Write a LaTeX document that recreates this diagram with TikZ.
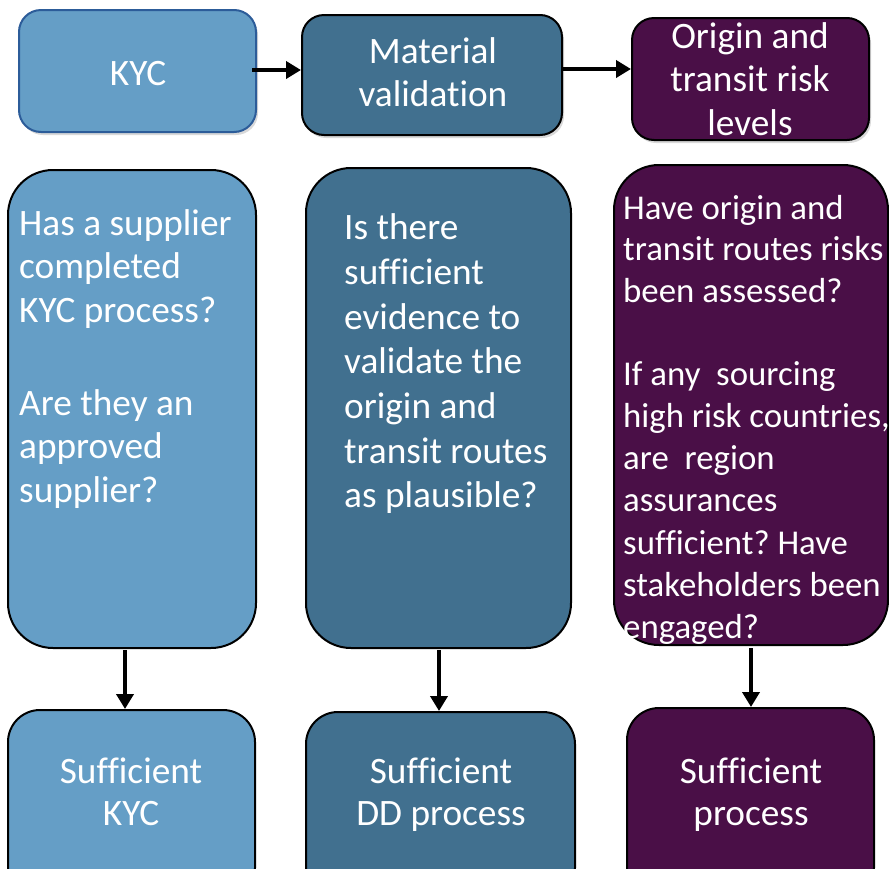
\documentclass[tikz,border=0pt]{standalone}
\usepackage{fontspec}
\setmainfont{Carlito}[Ligatures={NoCommon}]
\usetikzlibrary{arrows.meta,shadows}
\definecolor{lblue}{HTML}{659EC6}
\definecolor{dblue}{HTML}{41708F}
\definecolor{purp}{HTML}{4A0F47}
\definecolor{kycedge}{HTML}{2C5C99}
\frenchspacing
\begin{document}
\begin{tikzpicture}[x=1pt,y=-1pt,
  box/.style={rectangle, draw=black, line width=2pt, inner sep=0pt},
  topbox/.style={box, rounded corners=22pt, drop shadow={shadow xshift=2pt, shadow yshift=-3pt, opacity=0.3}},
  bigbox/.style={box, rounded corners=45pt},
  botbox/.style={box, rounded corners=32pt},
  txt/.style={inner sep=0pt, text=white, anchor=north, align=center},
  ltxt/.style={inner sep=0pt, text=white, anchor=north west, align=left},
  arr/.style={line width=4.5pt, -{Triangle[length=15pt,width=17pt]}}]
\path[use as bounding box, clip] (0,0) rectangle (889,868);
% top row
\node[topbox, fill=lblue, draw=kycedge, minimum width=237pt, minimum height=122pt] (kyc) at (137.5,71) {};
\node[topbox, fill=dblue, minimum width=260pt, minimum height=120pt] (mv) at (432,75) {};
\node[topbox, fill=purp, minimum width=237pt, minimum height=122pt] (org) at (750.5,79) {};
% question boxes
\node[bigbox, fill=lblue, minimum width=248pt, minimum height=478pt] (q1) at (132,409) {};
\node[bigbox, fill=dblue, minimum width=265pt, minimum height=480pt] (q2) at (438.5,408) {};
\node[bigbox, fill=purp, minimum width=274pt, minimum height=480pt] (q3) at (751,405) {};
% result boxes
\node[botbox, fill=lblue, minimum width=247pt, minimum height=190pt] (r1) at (131.5,805) {};
\node[botbox, fill=dblue, minimum width=269pt, minimum height=188pt] (r2) at (440.5,806) {};
\node[botbox, fill=purp, minimum width=247pt, minimum height=192pt] (r3) at (750.5,804) {};
% texts
\node[txt, font=\fontsize{37.3}{43}\selectfont] (tkyc) at (138,55.4) {\strut KYC};
\node[txt, font=\fontsize{37.3}{43}\selectfont] (tmv) at (433,33.4) {\strut Material\\\strut validation};
\node[txt, font=\fontsize{37.3}{43.5}\selectfont] (torg) at (750,17.5) {\strut Origin and\\\strut transit risk\\\strut levels};
\node[ltxt, font=\fontsize{37.3}{43.5}\selectfont] (tq1a) at (19,204.55) {\strut Has a supplier\\\strut completed\\\strut KYC process?};
\node[ltxt, font=\fontsize{37.3}{43.5}\selectfont] (tq1b) at (19,384.55) {\strut Are they an\\\strut approved\\\strut supplier?};
\node[ltxt, font=\fontsize{37.3}{44.7}\selectfont] (tq2) at (344,208.2) {\strut Is there\\\strut sufficient\\\strut evidence to\\\strut validate the\\\strut origin and\\\strut transit routes\\\strut as plausible?};
\node[ltxt, font=\fontsize{34.8}{41.5}\selectfont] (tq3a) at (623,190) {\strut Have origin and\\\strut transit routes risks\\\strut been assessed?};
\node[ltxt, font=\fontsize{34.8}{42.2}\selectfont] (tq3b) at (623,355.5) {\strut If any\ \ sourcing\\\strut high risk countries,\\\strut are\ \ region\\\strut assurances\\\strut sufficient? Have\\\strut stakeholders been\\\strut engaged?};
\node[txt, font=\fontsize{37.3}{42}\selectfont] (tr1) at (131,754) {\strut Sufficient\\\strut KYC};
\node[txt, font=\fontsize{37.3}{42}\selectfont] (tr2) at (441,754) {\strut Sufficient\\\strut DD process};
\node[txt, font=\fontsize{37.3}{42}\selectfont] (tr3) at (751,754) {\strut Sufficient\\\strut process};
% arrows
\draw[arr] ([yshift=1pt,xshift=-5pt]kyc.east) coordinate (a1) -- (a1 -| mv.west);
\draw[arr] ([yshift=6pt]mv.east) coordinate (a2) -- (a2 -| org.west);
\draw[arr] ([xshift=-7pt,yshift=-1pt]q1.south) coordinate (d1) -- (d1 |- r1.north);
\draw[arr] ([xshift=0.5pt,yshift=-1pt]q2.south) coordinate (d2) -- (d2 |- r2.north);
\draw[arr] ([yshift=-2pt]q3.south) coordinate (d3) -- (d3 |- r3.north);
\end{tikzpicture}
\end{document}
